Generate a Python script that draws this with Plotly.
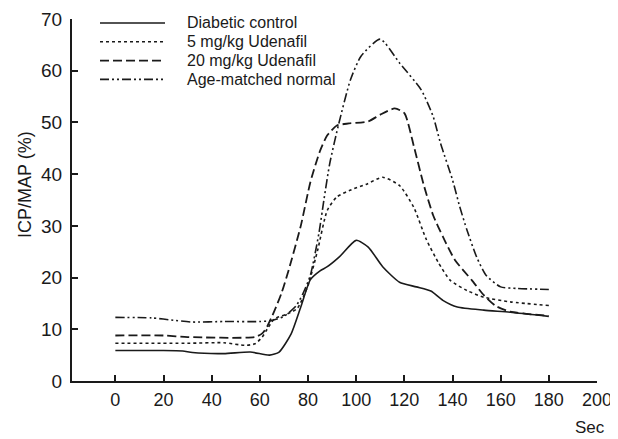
import plotly.graph_objects as go

# Diabetic control (solid)
dc_x = [0, 10, 20, 28, 32, 45, 56, 64, 68, 73, 77, 81, 85, 88, 93, 100, 105, 111, 118, 125, 131, 136, 142, 153, 164, 180]
dc_y = [5.9, 5.9, 5.9, 5.8, 5.5, 5.3, 5.6, 5.0, 5.6, 9.1, 14.3, 19.6, 21.3, 22.1, 24.0, 27.2, 25.9, 22.1, 19.1, 18.2, 17.4, 15.6, 14.3, 13.7, 13.3, 12.5]

# 5 mg/kg Udenafil (dotted)
u5_x = [0, 30, 45, 54, 58, 61, 63, 66, 71, 75.5, 80, 84, 88, 92, 98, 104, 111, 118, 124, 129, 134, 139, 146, 153, 164, 180]
u5_y = [7.3, 7.3, 7.4, 6.9, 7.2, 8.5, 10.0, 12.0, 12.9, 14.0, 18.5, 25.3, 33.0, 35.6, 37.0, 38.0, 39.4, 37.8, 33.5, 27.5, 23.0, 19.5, 17.5, 16.2, 15.3, 14.6]

# 20 mg/kg Udenafil (dashed)
u20_x = [0, 20, 30, 58, 61, 63, 66, 69, 72, 77, 81, 85, 88, 92, 97, 105, 110, 116, 120, 124, 128, 132, 136, 141, 148, 153, 158, 164, 180]
u20_y = [8.8, 8.8, 8.5, 8.5, 9.2, 10.5, 13.5, 17.0, 21.5, 30.0, 38.5, 44.5, 47.5, 49.4, 49.8, 50.2, 51.5, 52.7, 51.8, 45.3, 38.0, 32.0, 27.9, 23.4, 19.5, 16.6, 14.5, 13.4, 12.6]

# Age-matched normal (dash-dot-dot)
an_x = [0, 15, 25, 32, 45, 60, 65, 70, 75, 78, 81, 84.5, 86.6, 89, 92.8, 97.6, 102, 110, 118, 127, 132, 135, 140, 143, 146, 150, 154, 160, 167, 180]
an_y = [12.3, 12.2, 11.7, 11.4, 11.5, 11.5, 11.7, 12.5, 14.5, 17.0, 20.5, 28.5, 35.0, 42.0, 49.8, 58.2, 62.8, 66.1, 61.5, 56.3, 51.1, 46.0, 38.9, 33.7, 29.2, 24.0, 20.4, 18.2, 17.9, 17.7]

names = ["Diabetic control", "5 mg/kg Udenafil", "20 mg/kg Udenafil", "Age-matched normal"]
x_ticks = [0, 20, 40, 60, 80, 100, 120, 140, 160, 180, 200]
y_ticks = [0, 10, 20, 30, 40, 50, 60, 70]

FONT = "Liberation Sans, Arial, sans-serif"
INK = "#1a1a1a"

# The page body has an 8px margin, so the figure is sized to fill the
# remaining window and all target positions are offset by that margin.
OFF = 8
W, H = 618 - OFF, 439 - OFF
ML, MR, MT, MB = 72 - OFF, 21, 19 - OFF, 58
PW, PH = W - ML - MR, H - MT - MB


def px_x(px):
    return (px - OFF - ML) / PW


def px_y(py):
    return (H - MB - (py - OFF)) / PH


series = [
    (dc_x, dc_y, names[0], "solid", 1.6),
    (u5_x, u5_y, names[1], "dot", 1.6),
    (u20_x, u20_y, names[2], "9px,4px", 1.8),
    (an_x, an_y, names[3], "9px,3px,2px,3px,2px,3px", 1.6),
]

fig = go.Figure()
shapes = []
annotations = []
for i, (xs, ys, nm, dash, w) in enumerate(series):
    fig.add_trace(go.Scatter(
        x=xs, y=ys, name=nm, mode="lines", showlegend=False,
        line=dict(color=INK, width=w, dash=dash, shape="spline", smoothing=0.6),
    ))
    # legend entry (sample line + label)
    row_y = px_y(23 + 18.8 * i)
    shapes.append(dict(type="line", xref="paper", yref="paper",
                       x0=px_x(100), x1=px_x(165), y0=row_y, y1=row_y,
                       line=dict(color=INK, width=w, dash=dash)))
    annotations.append(dict(text=nm, xref="paper", yref="paper",
                            x=px_x(185), y=row_y, xanchor="left", yanchor="middle",
                            showarrow=False,
                            font=dict(size=16, family=FONT, color=INK)))

annotations += [
    dict(text="ICP/MAP (%)", textangle=-90, xref="paper", yref="paper",
         x=px_x(25), y=px_y(185), xanchor="center", yanchor="middle", showarrow=False,
         font=dict(size=18, family=FONT, color=INK)),
    dict(text="Sec", xref="paper", yref="paper",
         x=px_x(590), y=px_y(427), xanchor="center", yanchor="middle", showarrow=False,
         font=dict(size=17, family=FONT, color=INK)),
]

fig.update_layout(
    width=W, height=H,
    margin=dict(l=ML, r=MR, t=MT, b=MB, autoexpand=False),
    paper_bgcolor="white", plot_bgcolor="white",
    font=dict(family=FONT, color=INK),
    showlegend=False,
    xaxis=dict(
        range=[-18, 200], tickmode="array", tickvals=x_ticks,
        ticktext=[str(v) for v in x_ticks],
        showline=True, linecolor=INK, linewidth=2,
        ticks="inside", ticklen=6, tickwidth=1.5, tickcolor=INK,
        showgrid=False, zeroline=False, automargin=False,
        tickfont=dict(size=18, family=FONT, color=INK),
        ticklabelstandoff=1,
    ),
    yaxis=dict(
        range=[0, 70], tickmode="array", tickvals=y_ticks,
        showline=True, linecolor=INK, linewidth=2,
        ticks="inside", ticklen=6, tickwidth=1.5, tickcolor=INK,
        showgrid=False, zeroline=False, automargin=False,
        tickfont=dict(size=19, family=FONT, color=INK),
        ticklabelstandoff=4,
    ),
    shapes=shapes,
    annotations=annotations,
)

fig.write_html("out.html")
